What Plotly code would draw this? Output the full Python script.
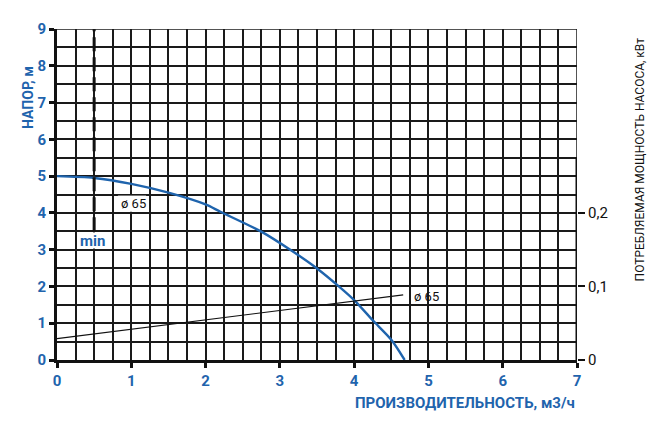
import plotly.graph_objects as go

# Head curve (flow m3/h -> head m)
flow = [0, 0.5, 1.0, 1.5, 2.0, 2.2, 2.75, 3.16, 3.5, 3.79, 4.01, 4.25, 4.5, 4.68]
head = [5.0, 4.95, 4.79, 4.55, 4.23, 4.03, 3.49, 2.97, 2.49, 2.01, 1.61, 1.08, 0.55, 0.0]

# Power curve (flow m3/h -> kW)
p_flow = [0, 4.66]
power = [0.029, 0.0885]

x_ticks = [0, 1, 2, 3, 4, 5, 6, 7]
y_ticks = [0, 1, 2, 3, 4, 5, 6, 7, 8, 9]
p_ticks = [0, 0.1, 0.2]
p_ticktext = ["0", "0,1", "0,2"]

BLUE = "#1f64ad"
GRID = "#1a1a1a"
FONT = "Roboto"

# page body has an 8px margin: figure placed at (8,8)
OFF = 8
W, H = 656 - OFF, 433 - OFF
L, T, R, B = 57 - OFF, 25 - OFF, 656 - 577, 433 - 360
PW, PH = W - L - R, H - T - B


def px_x(px):
    return (px - 57) / PW


def px_y(py):
    return (360 - py) / PH


fig = go.Figure()
fig.add_trace(go.Scatter(x=flow, y=head, mode="lines", line=dict(color=BLUE, width=2.4, shape="spline", smoothing=0.8),
                         hoverinfo="skip", showlegend=False))
fig.add_trace(go.Scatter(x=p_flow, y=power, mode="lines", line=dict(color="#111", width=1.2),
                         yaxis="y2", hoverinfo="skip", showlegend=False))
# min line
fig.add_trace(go.Scatter(x=[0.5, 0.5], y=[3.5, 9], mode="lines",
                         line=dict(color="#111", width=3, dash="14px,6px"),
                         hoverinfo="skip", showlegend=False))

fig.update_layout(
    width=W, height=H,
    margin=dict(l=L, r=R, t=T, b=B),
    plot_bgcolor="white", paper_bgcolor="white",
    xaxis=dict(range=[0, 7], tickvals=x_ticks, ticks="outside", ticklen=5, tickwidth=2.5, tickcolor="#111",
               showline=True, linewidth=3, linecolor="#111",
               showgrid=True, gridcolor=GRID, gridwidth=1.5,
               minor=dict(dtick=0.25, showgrid=True, gridcolor=GRID, gridwidth=1.5, ticks=""),
               tickfont=dict(family=FONT, size=15, color=BLUE, weight="bold"), zeroline=False),
    yaxis=dict(range=[0, 9], tickvals=y_ticks, ticks="outside", ticklen=5, tickwidth=2.5, tickcolor="#111",
               showline=True, linewidth=3, linecolor="#111",
               showgrid=True, gridcolor=GRID, gridwidth=1.5,
               minor=dict(dtick=0.5, showgrid=True, gridcolor=GRID, gridwidth=1.5, ticks=""),
               tickfont=dict(family=FONT, size=15, color=BLUE, weight="bold"), zeroline=False),
    yaxis2=dict(range=[0, 0.45], overlaying="y", side="right", tickvals=p_ticks, ticktext=p_ticktext,
                ticks="outside", ticklen=7, tickwidth=2, tickcolor="#111", showline=False,
                showgrid=False, zeroline=False,
                tickfont=dict(family=FONT, size=15, color="#111")),
)

# borders
fig.add_shape(type="line", xref="x", yref="y", x0=0, x1=7, y0=9, y1=9, line=dict(color=GRID, width=1.5))
fig.add_shape(type="line", xref="x", yref="y", x0=7, x1=7, y0=0, y1=9, line=dict(color=GRID, width=1.5))
fig.add_shape(type="line", xref="x", yref="y", x0=7, x1=7, y0=0, y1=5.5, line=dict(color="#111", width=3))

# white patches hiding grid lines behind labels
fig.add_shape(type="rect", xref="x", yref="y", x0=0.3, x1=0.7, y0=3.03, y1=3.47,
              fillcolor="white", line=dict(width=0), layer="between")
fig.add_shape(type="rect", xref="x", yref="y", x0=0.82, x1=1.2, y0=4.03, y1=4.47,
              fillcolor="white", line=dict(width=0), layer="between")

fig.add_annotation(x=1.03, y=4.26, xref="x", yref="y", text="ø 65", showarrow=False,
                   font=dict(family=FONT, size=13, color="#111"))
fig.add_annotation(x=4.98, y=1.73, xref="x", yref="y", text="ø 65", showarrow=False,
                   font=dict(family=FONT, size=13, color="#111"))
fig.add_annotation(x=0.48, y=3.24, xref="x", yref="y", text="min", showarrow=False,
                   font=dict(family=FONT, size=15, color=BLUE, weight="bold"))

fig.add_annotation(x=px_x(18), y=px_y(61), xref="paper", yref="paper", text="НАПОР, м", textangle=-90,
                   showarrow=False, font=dict(family=FONT, size=14, color=BLUE, weight="bold"))
fig.add_annotation(x=1, y=px_y(404), xref="paper", yref="paper", xanchor="right", yanchor="middle",
                   text="ПРОИЗВОДИТЕЛЬНОСТЬ, м3/ч", showarrow=False,
                   font=dict(family=FONT, size=15, color=BLUE, weight="bold"))
fig.add_annotation(x=px_x(640), y=px_y(157), xref="paper", yref="paper", xanchor="center", yanchor="middle",
                   text="ПОТРЕБЛЯЕМАЯ МОЩНОСТЬ НАСОСА, кВт", textangle=-90, showarrow=False,
                   font=dict(family=FONT, size=12, color="#111"))

fig.write_html("out.html")
